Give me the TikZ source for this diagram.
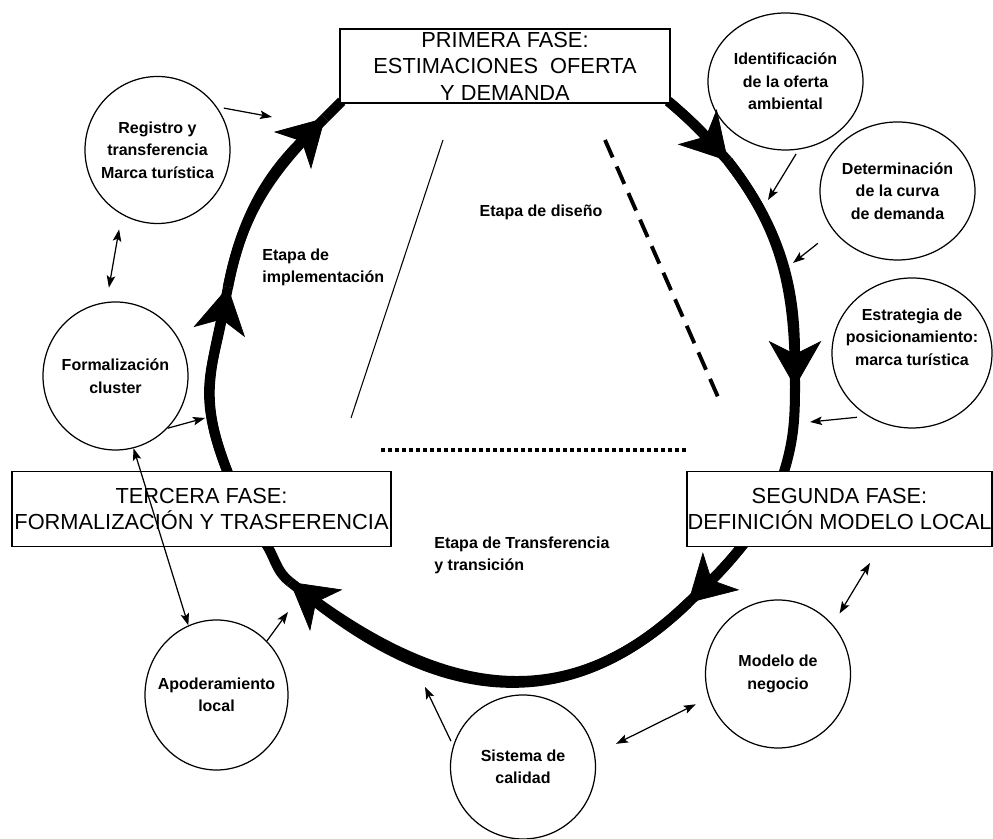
\documentclass[tikz,border=0pt]{standalone}
\usepackage{fontspec}
\setmainfont{Liberation Sans}
\usetikzlibrary{arrows.meta,shapes.geometric,backgrounds}

\begin{document}
\begin{tikzpicture}[
  phase/.style={draw, line width=0.9pt, fill=white, inner sep=0pt,
                align=center, font=\fontsize{12.4}{15.1}\selectfont},
  bubble/.style={draw, ellipse, line width=0.7pt, inner sep=0pt,
                 minimum width=2.9cm, minimum height=2.94cm},
  btxt/.style={font=\fontsize{9.1}{12.8}\selectfont\bfseries, align=center},
  stage/.style={font=\fontsize{9.1}{12.5}\selectfont\bfseries, align=left,
                inner sep=0pt},
  flow/.style={line width=5.7pt},
  flowtip/.style={flow, postaction={draw, -{Stealth[length=9.2mm, width=10.5mm,
                  inset=2.6mm, line width=0.4pt]}}},
  link/.style={line width=0.7pt,
               -{Stealth[length=2.4mm, width=1.7mm, inset=0.5mm]}},
  dlink/.style={line width=0.7pt,
                {Stealth[length=2.4mm, width=1.7mm, inset=0.5mm]}-{Stealth[length=2.4mm, width=1.7mm, inset=0.5mm]}}
]
  \useasboundingbox (0,0) rectangle (19.86,16.78);

  % Phase boxes
  \node[phase, minimum width=6.6cm, minimum height=1.48cm] (primera) at (10.10,15.46)
    {PRIMERA FASE:\\ESTIMACIONES\ \ OFERTA\\Y DEMANDA};
  \node[phase, minimum width=6.1cm, minimum height=1.5cm] (segunda) at (16.79,6.60)
    {SEGUNDA FASE:\\DEFINICIÓN MODELO LOCAL};
  \node[phase, minimum width=7.58cm, minimum height=1.5cm] (tercera) at (4.03,6.60)
    {TERCERA FASE:\\FORMALIZACIÓN Y TRASFERENCIA};

  % Bubbles
  \node[bubble, minimum width=3.1cm, minimum height=2.74cm,
        label={[btxt]center:Identificación\\de la oferta\\ambiental}] (ident) at (15.71,15.15) {};
  \node[bubble, minimum width=3.1cm, minimum height=2.76cm,
        label={[btxt]center:Determinación\\de la curva\\de demanda}] (determ) at (17.95,12.96) {};
  \node[bubble, minimum width=3.2cm, minimum height=3.0cm,
        label={[btxt, yshift=0.32cm]center:Estrategia de\\posicionamiento:\\marca turística}] (estrat) at (18.24,9.72) {};
  \node[bubble, label={[btxt]center:Registro y\\transferencia\\Marca turística}] (registro) at (3.15,13.78) {};
  \node[bubble, minimum height=2.96cm,
        label={[btxt]center:Formalización\\cluster}] (formal) at (2.31,9.26) {};
  \node[bubble, minimum width=2.86cm, minimum height=3.0cm,
        label={[btxt]center:Apoderamiento\\local}] (apoder) at (4.33,2.88) {};
  \node[bubble, minimum height=2.88cm,
        label={[btxt]center:Sistema de\\calidad}] (sistema) at (10.46,1.44) {};
  \node[bubble, minimum height=2.96cm,
        label={[btxt]center:Modelo de\\negocio}] (modelo) at (15.56,3.30) {};

  % Stage labels and dividers
  \node[stage] (disenio) at (10.82,12.54) {Etapa de diseño};
  \node[stage, anchor=west] (implem) at (5.24,11.43) {Etapa de\\implementación};
  \node[stage, anchor=west] (transf) at (8.68,5.68) {Etapa de Transferencia\\y transición};
  \draw[line width=0.6pt] (8.86,13.98) -- (7.02,8.42);
  \draw[line width=2.2pt, dash pattern=on 0.38cm off 0.2cm] (12.10,13.98) -- (14.36,8.84);
  \draw[line width=2pt, dash pattern=on 0.07cm off 0.07cm] (7.62,7.78) -- (13.74,7.78);

  % Cycle
  \coordinate (r1) at (14.56,13.56);
  \coordinate (r2) at (15.90,9.04);
  \coordinate (b1) at (13.76,4.72);
  \coordinate (b2) at (5.80,5.14);
  \coordinate (l1) at (4.56,11.04);
  \coordinate (l2) at (6.50,14.42);
  \begin{scope}[on background layer]
    \fill[white] (0,0) rectangle (19.86,16.78);
    \draw[flowtip] ([shift={(-0.05,0.05)}]primera.south east) to[out=-40,in=132] (r1);
    \draw[flowtip] (r1) to[out=-52,in=90] (r2);
    \draw[flow] (r2) to[out=-90,in=72] ([xshift=-1.15cm,yshift=-0.15cm]segunda.north);
    \draw[flowtip] ([xshift=-1.85cm,yshift=0.15cm]segunda.south) to[out=-128,in=44] (b1);
    \draw[flowtip] (b1) to[out=-136,in=-38,looseness=1.14] (b2);
    \draw[flow] (b2) to[out=142,in=-52] ([xshift=1.23cm,yshift=0.15cm]tercera.south);
    \draw[flowtip] ([xshift=0.57cm,yshift=-0.15cm]tercera.north) to[out=112,in=-101,looseness=1.2] (l1);
    \draw[flowtip] (l1) to[out=79,in=-135] (l2);
    \draw[flow] (l2) -- ([shift={(0.05,0.05)}]primera.south west);
  \end{scope}

  % Links to the cycle
  \coordinate (e1) at (5.44,14.44);
  \coordinate (e2) at (4.10,8.42);
  \coordinate (e3) at (5.76,4.54);
  \coordinate (e4) at (8.50,3.04);
  \coordinate (e5) at (17.40,5.52);
  \coordinate (e6) at (15.36,12.78);
  \coordinate (e7) at (15.86,11.52);
  \coordinate (e8) at (16.20,8.34);
  \draw[link, shorten <=0.14cm] (registro.36) -- (e1);
  \draw[link] (formal.-45) -- (e2);
  \draw[dlink, shorten <=0.3cm, shorten >=0.29cm] (registro.241) -- (formal.97);
  \draw[dlink] (formal.-76) -- (apoder.112);
  \draw[link] (apoder.47) -- (e3);
  \draw[link, shorten <=0.1cm] (sistema.163) -- (e4);
  \draw[dlink, shorten <=0.47cm, shorten >=0.29cm] (sistema.10) -- (modelo.199);
  \draw[dlink, shorten <=0.26cm] (modelo.42) -- (e5);
  \draw[link, shorten <=0.1cm] (ident.-79) -- (e6);
  \draw[link, shorten <=0.4cm] (determ.212) -- (e7);
  \draw[link, shorten <=0.22cm] (estrat.235) -- (e8);
\end{tikzpicture}
\end{document}
